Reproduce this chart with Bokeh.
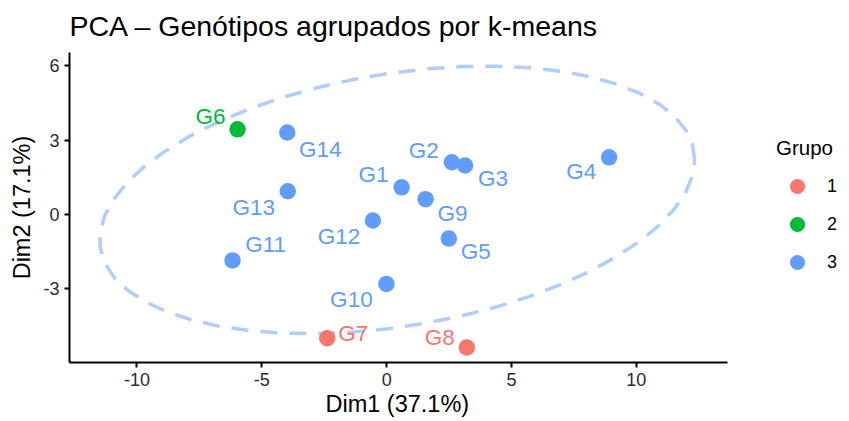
import numpy as np
import pandas as pd
from bokeh.plotting import figure
from bokeh.models import (ColumnDataSource, Legend, LegendItem, FixedTicker,
                          Range1d, Title)
from bokeh.core.properties import value
from bokeh.embed import file_html
from bokeh.resources import INLINE

# PCA scores of each genotype and its k-means cluster
genotypes = ["G1", "G2", "G3", "G4", "G5", "G6", "G7",
             "G8", "G9", "G10", "G11", "G12", "G13", "G14"]
dim1 = [0.60, 2.61, 3.14, 8.91, 2.49, -5.97, -2.38,
        3.21, 1.56, -0.01, -6.17, -0.55, -3.96, -3.98]
dim2 = [1.10, 2.11, 1.98, 2.31, -0.97, 3.44, -4.99,
        -5.36, 0.62, -2.80, -1.85, -0.24, 0.94, 3.31]
grupo = [3, 3, 3, 3, 3, 2, 1, 1, 3, 3, 3, 3, 3, 3]

groups = [1, 2, 3]
x_ticks = [-10, -5, 0, 5, 10]
y_ticks = [-3, 0, 3, 6]

# styling
palette = {1: "#F8766D", 2: "#00BA38", 3: "#619CFF"}
FONT = "Liberation Sans"
# screen-pixel nudges that keep each label clear of its point (dx, dy; dy downwards)
label_nudge = {
    "G1": (-28, -13), "G2": (-28, -12), "G3": (28, 13), "G4": (-28, 14),
    "G5": (27, 13), "G6": (-27, -13), "G7": (26, -5), "G8": (-27, -10),
    "G9": (27, 14), "G10": (-35, 16), "G11": (33, -16), "G12": (-34, 16),
    "G13": (-34, 16), "G14": (33, 17),
}

df = pd.DataFrame({"label": genotypes, "x": dim1, "y": dim2, "grupo": grupo})
df["color"] = df["grupo"].map(palette)
df["dx"] = [label_nudge[g][0] for g in df["label"]]
df["dy"] = [label_nudge[g][1] for g in df["label"]]

# 95% normal-theory ellipse for every cluster with at least three members
def normal_ellipse(pts, level=0.95, segments=51):
    n = len(pts)
    center = pts.mean(axis=0)
    cov = np.cov(pts, rowvar=False)
    upper = np.linalg.cholesky(cov).T
    dfn, dfd = 2, n - 1
    fq = dfd / 2.0 * ((1.0 - level) ** (-2.0 / dfd) - 1.0)  # F(2, dfd) quantile
    radius = np.sqrt(dfn * fq)
    ang = np.linspace(0, 2 * np.pi, segments + 1)
    circle = np.column_stack([np.cos(ang), np.sin(ang)])
    return center + radius * circle @ upper

# data panel limits; the frame continues to the right to hold the legend
x_lo, x_hi = -12.7, 13.65
y_lo, y_hi = -5.97, 6.54
DATA_W, LEGEND_W = 658, 122
x_view_end = x_hi + LEGEND_W * (x_hi - x_lo) / DATA_W

p = figure(width=849, height=421, output_backend="svg", toolbar_location=None,
           x_range=Range1d(x_lo, x_view_end), y_range=Range1d(y_lo, y_hi),
           min_border_left=69, min_border_right=0,
           min_border_top=52, min_border_bottom=59,
           title="PCA – Genótipos agrupados por k-means")

p.title.text_font = FONT
p.title.text_font_size = "28.5px"
p.title.text_font_style = "normal"
p.title.text_color = "#000000"
p.title.vertical_align = "top"
p.title.standoff = 18

p.xgrid.visible = False
p.ygrid.visible = False
p.outline_line_color = None
p.background_fill_color = "white"

for ax, ticks in ((p.xaxis[0], x_ticks), (p.yaxis[0], y_ticks)):
    ax.ticker = FixedTicker(ticks=ticks)
    ax.major_label_overrides = {t: str(t) for t in ticks}
    ax.minor_tick_line_color = None
    ax.major_tick_in = 0
    ax.major_tick_out = 5
    ax.major_tick_line_width = 2
    ax.axis_line_width = 2
    ax.axis_line_color = "#000000"
    ax.major_tick_line_color = "#000000"
    ax.major_label_text_font = FONT
    ax.major_label_text_font_size = "18px"
    ax.major_label_text_color = "#2b2b2b"
    ax.major_label_standoff = 5
    ax.axis_label_text_font = FONT
    ax.axis_label_text_font_size = "23.5px"
    ax.axis_label_text_font_style = "normal"
    ax.axis_label_text_color = "#000000"

p.xaxis.bounds = (x_lo, x_hi)
p.yaxis.axis_label = "Dim2 (17.1%)"
p.yaxis.axis_label_standoff = 5

# x-axis title, centred under the data panel
xlab = Title(text="Dim1 (37.1%)", align="left", offset=256,
             vertical_align="bottom", standoff=0,
             text_font=FONT, text_font_size="23.5px",
             text_font_style="normal", text_color="#000000")
p.add_layout(xlab, "below")

ellipse_style = dict(line_color=palette[3], line_alpha=0.5, line_width=3.5)

for g in groups:
    pts = df.loc[df["grupo"] == g, ["x", "y"]].to_numpy()
    if len(pts) >= 3:
        ell = normal_ellipse(pts)
        p.line(ell[:, 0], ell[:, 1], line_dash="17 12", **ellipse_style)

point_renderers = {}
for g in groups:
    src = ColumnDataSource(df[df["grupo"] == g])
    point_renderers[g] = p.scatter("x", "y", source=src, size=16.5,
                                   fill_color=palette[g], line_color=None)

labels = ColumnDataSource(df)
p.text("x", "y", text="label", source=labels, x_offset="dx", y_offset="dy",
       text_color="color", text_font=value(FONT), text_font_size="22.5px",
       text_align="center", text_baseline="middle")

# legend key piece for the ellipse path
key_line = p.line(x=[], y=[], line_dash="0 6 14 40", **ellipse_style)

items = [LegendItem(label="1", renderers=[point_renderers[1]]),
         LegendItem(label="2", renderers=[point_renderers[2]]),
         LegendItem(label="3", renderers=[key_line, point_renderers[3]])]
legend = Legend(items=items, title="Grupo", location=(707, 81),
                padding=0, margin=0, spacing=0,
                glyph_width=42, glyph_height=38, label_height=20,
                label_standoff=9, title_standoff=7,
                border_line_color=None, background_fill_alpha=0)
legend.title_text_font = FONT
legend.title_text_font_size = "20.5px"
legend.title_text_font_style = "normal"
legend.title_text_color = "#000000"
legend.label_text_font = FONT
legend.label_text_font_size = "18px"
legend.label_text_color = "#000000"
p.add_layout(legend)

open("out.html", "w").write(file_html(p, INLINE))
